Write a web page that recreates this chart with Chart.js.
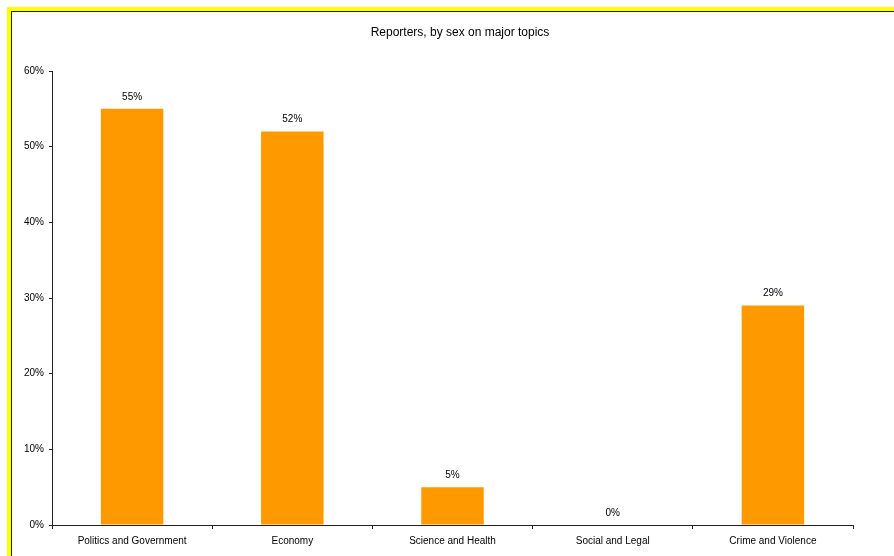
<!DOCTYPE html>
<html>
<head>
<meta charset="utf-8">
<script src="https://cdn.jsdelivr.net/npm/chart.js@4.4.0/dist/chart.umd.min.js"></script>
<style>
  html, body { margin:0; padding:0; background:#fff; overflow:hidden; width:894px; height:556px; }
  #frame { position:absolute; left:7px; top:7px; width:1000px; height:700px; border:4px solid #ffff00; }
  #inner { position:absolute; left:0; top:0; right:0; bottom:0; border-top:1px solid #222; border-left:1px solid #222; }
  #wrap { position:absolute; left:12px; top:12px; width:896px; height:544px; }
</style>
</head>
<body>
<div id="frame"><div id="inner"></div></div>
<div id="wrap"><canvas id="chart"></canvas></div>
<script>
// Core data
const chartTitle = 'Reporters, by sex on major topics';
const categories = ['Politics and Government', 'Economy', 'Science and Health', 'Social and Legal', 'Crime and Violence'];
const values = [55, 52, 5, 0, 29];
const yTicks = [0, 10, 20, 30, 40, 50, 60];

const FONT = 'Liberation Sans, Arial, sans-serif';

// title centred on the whole frame, not on the plot
const frameTitle = {
  id: 'frameTitle',
  afterDraw(chart){
    const ctx = chart.ctx;
    ctx.save();
    ctx.font = '12px ' + FONT;
    ctx.fillStyle = '#000';
    ctx.textAlign = 'center';
    ctx.textBaseline = 'middle';
    ctx.fillText(chartTitle, chart.width / 2, 21);
    ctx.restore();
  }
};

// value labels above each bar
const barLabels = {
  id: 'barLabels',
  afterDatasetsDraw(chart){
    const ctx = chart.ctx;
    const meta = chart.getDatasetMeta(0);
    ctx.save();
    ctx.font = '10px ' + FONT;
    ctx.fillStyle = '#000';
    ctx.textAlign = 'center';
    ctx.textBaseline = 'middle';
    meta.data.forEach((bar, i) => {
      ctx.fillText(values[i] + '%', bar.x, bar.y - 12);
    });
    ctx.restore();
  }
};

new Chart(document.getElementById('chart'), {
  type: 'bar',
  data: {
    labels: categories,
    datasets: [{ data: values, backgroundColor: '#ff9900', borderWidth: 0, barPercentage: 0.39, categoryPercentage: 1 }]
  },
  options: {
    responsive: true,
    maintainAspectRatio: false,
    animation: false,
    layout: { padding: { left: 0, right: 55, top: 59, bottom: 0 } },
    plugins: {
      legend: { display: false },
      tooltip: { enabled: false },
      title: { display: false }
    },
    scales: {
      x: {
        grid: { display: true, drawOnChartArea: false, drawTicks: true, tickLength: 4, color: '#222', offset: true },
        border: { display: true, color: '#222', width: 1 },
        ticks: { color: '#000', font: { family: FONT, size: 10 }, padding: 6, maxRotation: 0, autoSkip: false },
        afterFit(scale){ scale.height = 31; }
      },
      y: {
        min: yTicks[0],
        max: yTicks[yTicks.length - 1],
        afterBuildTicks(scale){ scale.ticks = yTicks.map(v => ({ value: v })); },
        grid: { display: true, drawOnChartArea: false, drawTicks: true, tickLength: 3, color: '#222' },
        border: { display: true, color: '#222', width: 1 },
        ticks: { color: '#000', font: { family: FONT, size: 10 }, padding: 5, callback: v => v + '%' },
        afterFit(scale){ scale.width = 40; }
      }
    }
  },
  plugins: [barLabels, frameTitle]
});
</script>
</body>
</html>
